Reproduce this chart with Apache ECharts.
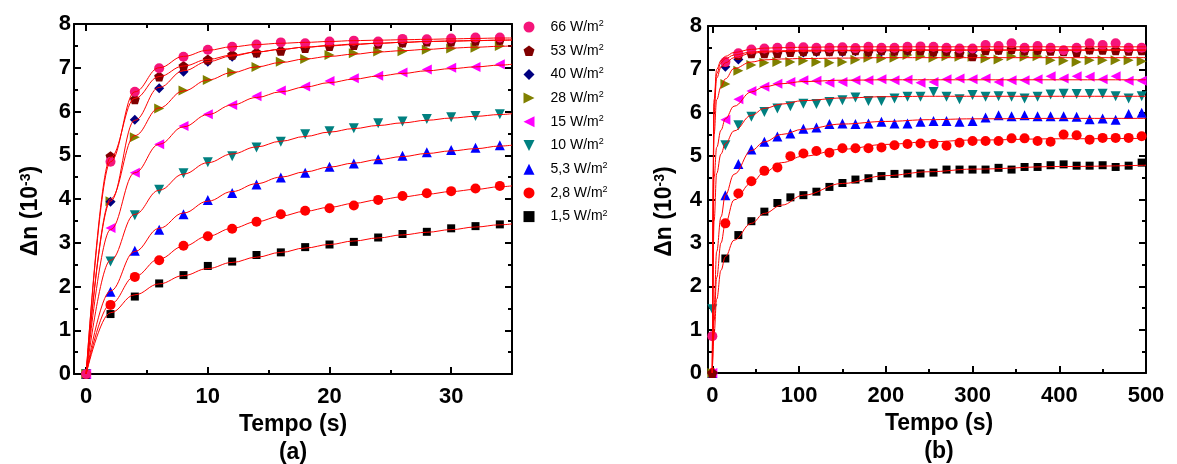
<!DOCTYPE html>
<html><head><meta charset="utf-8">
<script src="https://cdn.jsdelivr.net/npm/echarts@6/dist/echarts.min.js"></script>
<style>html,body{margin:0;padding:0;background:#fff}#c{width:1177px;height:464px}</style>
</head><body><div id="c"></div>
<script>
// ---------- DATA ----------
const legendNames = ['66 W/m²','53 W/m²','40 W/m²','28 W/m²','15 W/m²','10 W/m²','5,3 W/m²','2,8 W/m²','1,5 W/m²'];
const keys = ['1_5','2_8','5_3','10','15','28','40','53','66']; // drawing order (bottom -> top)
const keyName = {'66':'66 W/m²','53':'53 W/m²','40':'40 W/m²','28':'28 W/m²','15':'15 W/m²','10':'10 W/m²','5_3':'5,3 W/m²','2_8':'2,8 W/m²','1_5':'1,5 W/m²'};

// Tick values
const xTicksA = [0,10,20,30];
const xMinorA = [5,15,25];
const xTicksB = [0,100,200,300,400,500];
const xMinorB = [50,150,250,350,450];

// Panel (a) measured points
const tA = [0,2,4,6,8,10,12,14,16,18,20,22,24,26,28,30,32,34];
const a_1_5 = [0,1.37,1.77,2.07,2.26,2.47,2.57,2.72,2.78,2.90,2.96,3.02,3.12,3.20,3.25,3.33,3.38,3.42];
const a_2_8 = [0,1.58,2.22,2.60,2.93,3.15,3.32,3.48,3.65,3.73,3.79,3.85,3.98,4.07,4.13,4.18,4.24,4.30];
const a_5_3 = [0,1.88,2.82,3.30,3.65,3.98,4.14,4.33,4.49,4.60,4.74,4.81,4.91,4.99,5.07,5.12,5.17,5.23];
const a_10  = [0,2.57,3.63,4.21,4.59,4.84,4.98,5.18,5.31,5.48,5.55,5.62,5.73,5.77,5.83,5.87,5.90,5.94];
const a_15  = [0,3.34,4.60,5.25,5.67,5.94,6.15,6.35,6.48,6.57,6.70,6.76,6.82,6.89,6.96,7.00,7.02,7.08];
const a_28  = [0,3.95,5.41,6.07,6.48,6.72,6.89,7.02,7.14,7.20,7.29,7.33,7.37,7.38,7.41,7.44,7.46,7.50];
const a_40  = [0,3.94,5.81,6.53,6.91,7.14,7.25,7.33,7.40,7.45,7.50,7.52,7.56,7.57,7.60,7.60,7.62,7.63];
const a_53  = [0,4.98,6.28,6.80,7.04,7.19,7.30,7.35,7.39,7.45,7.50,7.52,7.55,7.58,7.60,7.60,7.62,7.64];
const a_66  = [0,4.85,6.45,6.99,7.25,7.41,7.48,7.53,7.58,7.56,7.60,7.62,7.60,7.66,7.65,7.67,7.69,7.69];

// Panel (a) fitted curves
const fA = [0,2,4,6,8,10,12,14,16,18,20,22,24,26,28,30,32,34,35];
const fa_1_5 = [0,1.40,1.81,2.06,2.25,2.41,2.55,2.67,2.78,2.88,2.96,3.04,3.11,3.18,3.24,3.30,3.36,3.41,3.43];
const fa_2_8 = [0,1.60,2.23,2.63,2.92,3.15,3.33,3.48,3.61,3.72,3.81,3.90,3.98,4.05,4.11,4.17,4.22,4.28,4.30];
const fa_5_3 = [0,1.90,2.80,3.33,3.68,3.95,4.17,4.35,4.50,4.62,4.73,4.82,4.90,4.97,5.04,5.10,5.15,5.21,5.23];
const fa_10  = [0,2.60,3.65,4.20,4.57,4.83,5.03,5.19,5.32,5.43,5.53,5.61,5.68,5.74,5.80,5.85,5.89,5.93,5.95];
const fa_15  = [0,3.30,4.60,5.25,5.65,5.93,6.15,6.32,6.45,6.56,6.66,6.74,6.81,6.87,6.93,6.98,7.02,7.06,7.08];
const fa_28  = [0,4.00,5.45,6.08,6.47,6.72,6.89,7.02,7.12,7.20,7.26,7.31,7.36,7.39,7.42,7.45,7.47,7.49,7.50];
const fa_40  = [0,3.95,5.80,6.55,6.93,7.14,7.27,7.36,7.42,7.47,7.51,7.54,7.56,7.58,7.60,7.61,7.62,7.63,7.63];
const fa_53  = [0,4.95,6.30,6.80,7.04,7.19,7.29,7.36,7.42,7.47,7.50,7.53,7.56,7.58,7.60,7.61,7.62,7.63,7.64];
const fa_66  = [0,4.85,6.45,7.00,7.26,7.40,7.48,7.53,7.56,7.58,7.60,7.62,7.63,7.64,7.65,7.66,7.67,7.68,7.68];

// Panel (b) measured points
const tB = [0,15,30,45,60,75,90,105,120,135,150,165,180,195,210,225,240,255,270,285,300,315,330,345,360,375,390,405,420,435,450,465,480,495];
const b_1_5 = [0,2.64,3.18,3.50,3.72,3.92,4.05,4.10,4.18,4.29,4.38,4.46,4.49,4.54,4.59,4.60,4.60,4.62,4.69,4.69,4.69,4.69,4.73,4.69,4.75,4.75,4.79,4.81,4.78,4.78,4.79,4.75,4.78,4.85];
const b_2_8 = [0,3.45,4.14,4.42,4.66,4.74,5.00,5.06,5.12,5.08,5.18,5.18,5.18,5.20,5.25,5.28,5.29,5.28,5.24,5.31,5.35,5.35,5.35,5.41,5.41,5.35,5.33,5.50,5.48,5.38,5.42,5.42,5.42,5.46];
const b_5_3 = [0,4.10,4.82,5.15,5.33,5.45,5.52,5.63,5.66,5.74,5.75,5.74,5.75,5.79,5.75,5.75,5.79,5.81,5.81,5.79,5.81,5.89,5.94,5.92,5.94,5.92,5.92,5.92,5.91,5.85,5.87,5.84,5.97,6.00];
const b_10  = [1.47,5.25,5.71,5.91,6.02,6.10,6.15,6.21,6.20,6.25,6.29,6.35,6.27,6.27,6.33,6.37,6.37,6.48,6.37,6.31,6.41,6.37,6.38,6.37,6.33,6.37,6.42,6.44,6.43,6.43,6.44,6.38,6.33,6.38];
const b_15  = [0,5.84,6.31,6.50,6.60,6.67,6.71,6.75,6.74,6.69,6.71,6.75,6.75,6.77,6.75,6.76,6.69,6.71,6.77,6.79,6.77,6.79,6.71,6.75,6.75,6.77,6.84,6.79,6.84,6.83,6.77,6.84,6.74,6.74];
const b_28  = [0,6.66,6.97,7.10,7.15,7.17,7.17,7.20,7.17,7.15,7.17,7.22,7.27,7.25,7.27,7.33,7.30,7.27,7.30,7.29,7.29,7.25,7.23,7.30,7.29,7.30,7.21,7.20,7.17,7.21,7.21,7.21,7.21,7.19];
const b_40  = [0,7.06,7.23,7.37,7.37,7.38,7.40,7.39,7.40,7.41,7.40,7.42,7.40,7.41,7.42,7.43,7.44,7.40,7.42,7.43,7.42,7.45,7.44,7.46,7.43,7.44,7.45,7.42,7.44,7.45,7.46,7.45,7.44,7.44];
const b_53  = [0,7.17,7.33,7.37,7.37,7.38,7.40,7.42,7.43,7.42,7.43,7.44,7.42,7.44,7.43,7.45,7.44,7.42,7.43,7.37,7.30,7.44,7.45,7.47,7.44,7.45,7.43,7.42,7.40,7.46,7.45,7.44,7.43,7.44];
const b_66  = [0.85,7.17,7.37,7.46,7.48,7.50,7.52,7.51,7.50,7.50,7.51,7.49,7.52,7.50,7.50,7.52,7.53,7.52,7.50,7.48,7.48,7.56,7.54,7.60,7.50,7.54,7.50,7.44,7.50,7.60,7.56,7.60,7.50,7.50];

// Panel (b) fitted curves
const fB = [0,2,5,10,15,25,45,60,80,105,150,200,250,300,400,500];
const fb_1_5 = [0,0.90,1.70,2.37,2.68,3.06,3.45,3.68,3.87,4.10,4.37,4.55,4.64,4.70,4.76,4.79];
const fb_2_8 = [0,1.20,2.20,3.00,3.45,3.99,4.38,4.63,4.85,5.00,5.16,5.27,5.33,5.37,5.40,5.41];
const fb_5_3 = [0,1.50,2.80,3.60,4.10,4.58,5.13,5.33,5.50,5.62,5.74,5.80,5.84,5.86,5.87,5.87];
const fb_10  = [0,3.50,4.60,5.05,5.29,5.58,5.94,6.10,6.20,6.28,6.34,6.37,6.38,6.38,6.38,6.38];
const fb_15  = [0,4.50,5.20,5.60,5.86,6.15,6.48,6.60,6.67,6.72,6.75,6.76,6.76,6.76,6.76,6.76];
const fb_28  = [0,5.50,6.30,6.60,6.78,7.02,7.17,7.22,7.24,7.25,7.26,7.27,7.27,7.27,7.27,7.27];
const fb_40  = [0,6.00,6.80,7.05,7.15,7.27,7.37,7.40,7.41,7.42,7.43,7.43,7.44,7.44,7.44,7.44];
const fb_53  = [0,6.20,6.90,7.15,7.25,7.33,7.40,7.42,7.43,7.44,7.44,7.45,7.45,7.45,7.45,7.45];
const fb_66  = [0,6.30,7.00,7.20,7.30,7.39,7.46,7.49,7.50,7.51,7.52,7.52,7.52,7.52,7.52,7.52];

// ---------- STYLE ----------
const pointsA = {'1_5':a_1_5,'2_8':a_2_8,'5_3':a_5_3,'10':a_10,'15':a_15,'28':a_28,'40':a_40,'53':a_53,'66':a_66};
const fitsA   = {'1_5':fa_1_5,'2_8':fa_2_8,'5_3':fa_5_3,'10':fa_10,'15':fa_15,'28':fa_28,'40':fa_40,'53':fa_53,'66':fa_66};
const pointsB = {'1_5':b_1_5,'2_8':b_2_8,'5_3':b_5_3,'10':b_10,'15':b_15,'28':b_28,'40':b_40,'53':b_53,'66':b_66};
const fitsB   = {'1_5':fb_1_5,'2_8':fb_2_8,'5_3':fb_5_3,'10':fb_10,'15':fb_15,'28':fb_28,'40':fb_40,'53':fb_53,'66':fb_66};

const colors = {'66':'#f5157a','53':'#800000','40':'#000080','28':'#808000','15':'#ff00ff','10':'#008080','5_3':'#0000ff','2_8':'#ff0000','1_5':'#000000'};
const symbols = {
  '66':'circle',
  '53':'path://M0,-1L0.951,-0.309L0.588,0.809L-0.588,0.809L-0.951,-0.309Z',
  '40':'diamond',
  '28':'path://M0,0L1,0.5L0,1Z',
  '15':'path://M1,0L0,0.5L1,1Z',
  '10':'path://M0,0L1,0L0.5,1Z',
  '5_3':'triangle',
  '2_8':'circle',
  '1_5':'rect'
};
const sizes = {'66':10,'53':10,'40':10,'28':10,'15':10,'10':10,'5_3':10,'2_8':10,'1_5':8};

const FONT = 'Liberation Sans, Arial, sans-serif';
const pts = (xs, ys) => xs.map((x, i) => [x, ys[i]]);

const series = [];
function addPanel(xs, pmap, fxs, fmap, xi, yi, tag) {
  keys.forEach(k => {
    series.push({
      name: keyName[k], type: 'scatter', xAxisIndex: xi, yAxisIndex: yi,
      data: pts(xs, pmap[k]), symbol: symbols[k], symbolSize: sizes[k],
      itemStyle: {color: colors[k], opacity: 1}, z: 2, silent: true
    });
  });
  keys.forEach(k => {
    series.push({
      name: 'fit ' + tag + ' ' + k, type: 'line', xAxisIndex: xi, yAxisIndex: yi,
      data: pts(fxs, fmap[k]), smooth: 0.4, smoothMonotone: 'x', symbol: 'none', showSymbol: false,
      lineStyle: {color: '#ff0000', width: 1}, z: 3, silent: true
    });
  });
}
addPanel(tA, pointsA, fA, fitsA, 0, 0, 'a');
addPanel(tB, pointsB, fB, fitsB, 4, 2, 'b');

const lineBlack = {show: true, onZero: false, lineStyle: {color: '#000', width: 2}};
const noLine = {show: false, onZero: false};
const tickLbl = {fontFamily: FONT, fontWeight: 'bold', fontSize: 22, color: '#000'};

function xAxes(grid, min, max, ticks, minor, title, titlePad) {
  const base = {type: 'value', gridIndex: grid, min: min, max: max, splitLine: {show: false}, splitNumber: 4};
  return [
    Object.assign({}, base, {
      position: 'bottom', axisLine: lineBlack,
      axisTick: {show: true, inside: true, length: 7, customValues: ticks, lineStyle: {color: '#000', width: 2}},
      axisLabel: Object.assign({show: true, margin: 12, customValues: ticks}, tickLbl),
      name: '{t|Tempo (s)}\n{p|' + title + '}', nameLocation: 'middle', nameGap: 32,
      nameTextStyle: {padding: titlePad, rich: {
        t: {fontFamily: FONT, fontWeight: 'bold', fontSize: 23, color: '#000', lineHeight: 28},
        p: {fontFamily: FONT, fontWeight: 'bold', fontSize: 23, color: '#000', lineHeight: 28}
      }}
    }),
    Object.assign({}, base, {
      position: 'bottom', axisLine: noLine,
      axisTick: {show: true, inside: true, length: 4, customValues: minor, lineStyle: {color: '#000', width: 2}},
      axisLabel: {show: false, customValues: minor}
    }),
    Object.assign({}, base, {
      position: 'top', axisLine: lineBlack,
      axisTick: {show: true, inside: true, length: 7, customValues: ticks, lineStyle: {color: '#000', width: 2}},
      axisLabel: {show: false, customValues: ticks}
    }),
    Object.assign({}, base, {
      position: 'top', axisLine: noLine,
      axisTick: {show: true, inside: true, length: 4, customValues: minor, lineStyle: {color: '#000', width: 2}},
      axisLabel: {show: false, customValues: minor}
    })
  ];
}
function yAxes(grid, labelMargin) {
  const base = {type: 'value', gridIndex: grid, min: 0, max: 8, interval: 1, splitLine: {show: false},
    minorTick: {show: true, splitNumber: 2, length: 4, lineStyle: {color: '#000', width: 2}},
    axisTick: {show: true, inside: true, length: 7, lineStyle: {color: '#000', width: 2}},
    axisLine: lineBlack};
  return [
    Object.assign({}, base, {
      position: 'left',
      axisLabel: Object.assign({show: true, margin: labelMargin}, tickLbl),
      name: '{a|Δn (10}{s|-3}{a|)}', nameLocation: 'middle', nameGap: 32,
      nameTextStyle: {padding: [0, 24, 0, 0], rich: {
        a: {fontFamily: FONT, fontWeight: 'bold', fontSize: 23, color: '#000'},
        s: {fontFamily: FONT, fontWeight: 'bold', fontSize: 14, color: '#000', verticalAlign: 'top'}
      }}
    }),
    Object.assign({}, base, {position: 'right', axisLabel: {show: false}})
  ];
}

const option = {
  animation: false,
  backgroundColor: '#fff',
  grid: [
    {left: 74, top: 24, width: 438, height: 350, outerBoundsMode: 'none', containLabel: false},
    {left: 708, top: 26, width: 438, height: 347, outerBoundsMode: 'none', containLabel: false}
  ],
  xAxis: [].concat(
    xAxes(0, -1, 35, xTicksA, xMinorA, '(a)', [0, 0, 0, 0]),
    xAxes(1, -5, 500, xTicksB, xMinorB, '(b)', [0, 0, 0, 24])
  ),
  yAxis: [].concat(yAxes(0, 3), yAxes(1, 6)),
  legend: {
    orient: 'vertical', left: 523.5, top: 19, padding: 0,
    itemWidth: 11, itemHeight: 11, itemGap: 8.7,
    data: legendNames,
    formatter: n => '{a|' + n.slice(0, -1) + '}{s|2}',
    textStyle: {fontFamily: FONT, fontSize: 14, color: '#000', rich: {
      a: {fontFamily: FONT, fontSize: 14, color: '#000', lineHeight: 16, padding: [0, 0, 0, 11]},
      s: {fontFamily: FONT, fontSize: 9, color: '#000', verticalAlign: 'top'}
    }},
    selectedMode: false
  },
  series: series
};
const chart = echarts.init(document.getElementById('c'), null, {renderer: 'canvas'});
chart.setOption(option);
</script>
</body></html>
